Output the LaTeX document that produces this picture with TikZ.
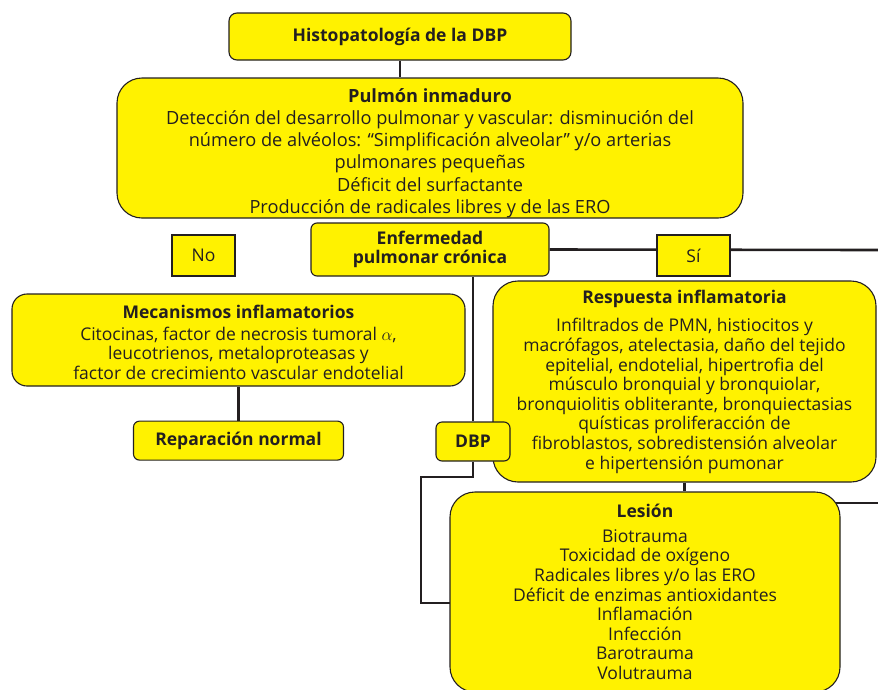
\documentclass[tikz,border=0pt]{standalone}
\usepackage{fontspec}
\setmainfont{Open Sans}
\usetikzlibrary{positioning, backgrounds}
\definecolor{boxyellow}{HTML}{FFF200}
\definecolor{inkgray}{HTML}{231F20}
\newcommand{\bodyfont}{\fontsize{17.5}{19.6}\selectfont}
\newcommand{\widefont}{\fontsize{18.2}{22.2}\selectfont}
\tikzset{
    box/.style={draw=inkgray, fill=boxyellow, line width=1.1pt,
        align=center, text=inkgray, inner sep=0pt, font=\bodyfont},
    link/.style={draw=inkgray, line width=2.6pt},
}

\begin{document}
\begin{tikzpicture}[x=1pt, y=-1pt]
    \useasboundingbox (0,0) rectangle (878,689);
    \clip (0,0) rectangle (878,689);
    % top of the chart
        \node[box,
            minimum width=342pt, minimum height=47pt,
            rounded corners=8pt
            ] (hist) at (400,36.5) {\textbf{Histopatología de la DBP}};
        \node[box,
            minimum width=626pt, minimum height=140pt,
            rounded corners=25pt, font=\widefont
            ] (pulmon) at (430,148) {\rule{0pt}{24pt}\textbf{Pulmón inmaduro}\\
            Detección del desarrollo pulmonar y vascular: disminución del\\
            número de alvéolos: “Simplificación alveolar” y/o arterias\\
            pulmonares pequeñas\\
            Déficit del surfactante\\
            Producción de radicales libres y de las ERO};
    % middle row
        \node[box,
            minimum width=238pt, minimum height=53pt,
            rounded corners=6pt
            ] (epc) at (430,249.5) {\textbf{Enfermedad}\\\textbf{pulmonar crónica}};
        \node[box,
            minimum width=63pt, minimum height=41pt
            ] (no) at (203.5,255.5) {No};
        \node[box,
            minimum width=73pt, minimum height=41pt
            ] (si) at (693.5,255.5) {Sí};
    % branch without disease
        \node[box,
            minimum width=453pt, minimum height=92pt,
            rounded corners=15pt
            ] (mec) at (238.5,340) {\rule{0pt}{18pt}\textbf{Mecanismos inflamatorios}\\[2pt]
            Citocinas, factor de necrosis tumoral $\alpha$,\\
            leucotrienos, metaloproteasas y\\
            factor de crecimiento vascular endotelial};
        \node[box,
            below=34pt of mec,
            minimum width=210pt, minimum height=39pt,
            rounded corners=6pt
            ] (rep) {\textbf{Reparación normal}};
    % branch with disease
        \node[box,
            minimum width=383pt, minimum height=201pt,
            rounded corners=25pt
            ] (resp) at (684.5,381.5) {\textbf{Respuesta inflamatoria}\\[9pt]
            Infiltrados de PMN, histiocitos y\\
            macrófagos, atelectasia, daño del tejido\\
            epitelial, endotelial, hipertrofia del\\
            músculo bronquial y bronquiolar,\\
            bronquiolitis obliterante, bronquiectasias\\
            quísticas proliferacción de\\
            fibroblastos, sobredistensión alveolar\\
            e hipertensión pumonar};
        \node[box,
            minimum width=74pt, minimum height=39pt,
            rounded corners=6pt
            ] (dbp) at (473,441.5) {\textbf{DBP}};
        \node[box,
            minimum width=390pt, minimum height=200pt,
            rounded corners=25pt
            ] (lesion) at (645,592) {\textbf{Lesión}\\[5pt]
            Biotrauma\\
            Toxicidad de oxígeno\\
            Radicales libres y/o las ERO\\
            Déficit de enzimas antioxidantes\\
            Inflamación\\
            Infección\\
            Barotrauma\\
            Volutrauma};
        \coordinate (edgetop) at (878,250);
        \coordinate (edgelow) at (878,503);
        \coordinate (dbpbend) at (421,477);
        \coordinate (lesionin) at (450,603);

    \begin{scope}[on background layer]
        \draw[link] (hist.south) -- (hist.south |- pulmon.north);
        \draw[link] (epc.east) -- (edgetop);
        \draw[link] (epc.south -| dbp.north) -- (dbp.north);
        \draw[link] (mec.south) -- (mec.south |- rep.north);
        \draw[link] (dbp.south) |- (dbpbend) |- (lesionin);
        \draw[link] (resp.south) -- (resp.south |- lesion.north);
        \draw[link] (lesion.center |- edgelow) -- (edgelow);
    \end{scope}
\end{tikzpicture}
\end{document}
